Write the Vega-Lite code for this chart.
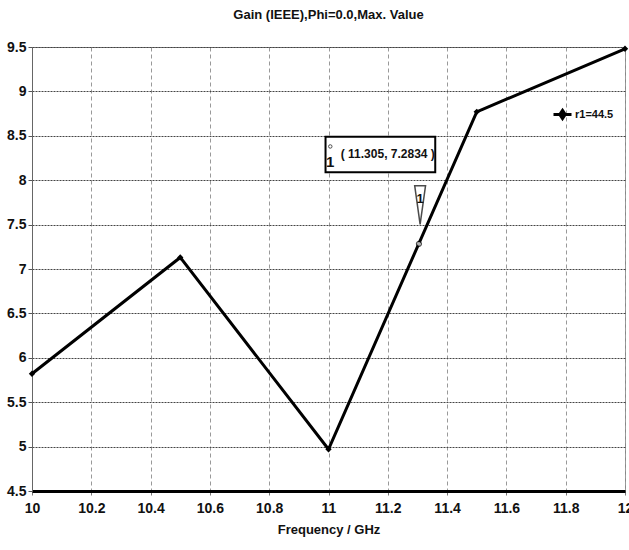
{
  "$schema": "https://vega.github.io/schema/vega-lite/v6.json",
  "width": 593,
  "height": 444,
  "autosize": "none",
  "padding": {"left": 32, "top": 47, "right": 4, "bottom": 59},
  "background": "white",
  "title": {"text": "Gain (IEEE),Phi=0.0,Max. Value", "anchor": "middle", "font": "Liberation Sans", "fontSize": 13, "fontWeight": "bold", "color": "#111", "offset": 18},
  "config": {
    "view": {"stroke": "#888", "strokeWidth": 1},
    "font": "Liberation Sans"
  },
  "datasets": {
    "gain": [
      {"freq": 10, "gain": 5.82, "series": "r1=44.5"},
      {"freq": 10.5, "gain": 7.13, "series": "r1=44.5"},
      {"freq": 11, "gain": 4.97, "series": "r1=44.5"},
      {"freq": 11.5, "gain": 8.77, "series": "r1=44.5"},
      {"freq": 12, "gain": 9.48, "series": "r1=44.5"}
    ],
    "marker": [{"freq": 11.305, "gain": 7.2834}],
    "box": [{"x1": 10.99, "x2": 11.36, "y1": 8.09, "y2": 8.49}],
    "labels": [
      {"freq": 11.2, "gain": 8.29, "label": "( 11.305, 7.2834 )", "size": 12},
      {"freq": 11.006, "gain": 8.21, "label": "1", "size": 15},
      {"freq": 11.309, "gain": 7.79, "label": "1", "size": 13}
    ],
    "smallcircle": [{"freq": 11.006, "gain": 8.38}],
    "flag": [{"freq": 11.309, "gain": 7.72}]
  },
  "layer": [
    {
      "data": {"name": "gain"},
      "mark": {"type": "line", "strokeWidth": 3, "color": "black", "point": {"shape": "diamond", "filled": true, "size": 40, "color": "black"}},
      "encoding": {
        "x": {"field": "freq", "type": "quantitative", "scale": {"domain": [10, 12], "nice": false, "zero": false},
          "axis": {"values": [10, 10.2, 10.4, 10.6, 10.8, 11, 11.2, 11.4, 11.6, 11.8, 12], "format": ".1~f", "title": "Frequency / GHz", "titleFont": "Liberation Sans", "titleFontSize": 13, "titleFontWeight": "bold", "titleColor": "#111", "titlePadding": 8,
            "labelFont": "Liberation Sans", "labelFontSize": 14, "labelFontWeight": "bold", "labelColor": "#111", "labelPadding": 6, "labelFlush": false,
            "domainColor": "black", "domainWidth": 3, "tickColor": "#777", "tickSize": 4,
            "grid": true, "gridColor": "#999", "gridDash": [4, 3], "gridWidth": 1}},
        "y": {"field": "gain", "type": "quantitative", "scale": {"domain": [4.5, 9.5], "nice": false, "zero": false},
          "axis": {"values": [4.5, 5, 5.5, 6, 6.5, 7, 7.5, 8, 8.5, 9, 9.5], "title": null, "format": ".1~f",
            "labelFont": "Liberation Sans", "labelFontSize": 14, "labelFontWeight": "bold", "labelColor": "#111", "labelPadding": 2,
            "domainColor": "#666", "domainWidth": 1, "tickColor": "#555", "tickSize": 4,
            "grid": true, "gridColor": "#444", "gridDash": [2, 1], "gridWidth": 1}},
        "color": {"field": "series", "type": "nominal", "scale": {"range": ["black"]},
          "legend": {"orient": "none", "legendX": 520, "legendY": 57, "title": null, "symbolType": "M-1,0L1,0M0,-0.45L0.3,0L0,0.45L-0.3,0Z", "symbolSize": 324, "symbolStrokeWidth": 3, "symbolFillColor": "black", "symbolStrokeColor": "black",
            "labelFont": "Liberation Sans", "labelFontSize": 11, "labelFontWeight": "bold", "labelColor": "#111", "labelOffset": 2}}
      }
    },
    {
      "mark": {"type": "rule", "color": "black", "strokeWidth": 3},
      "encoding": {"y": {"datum": 9.5}}
    },
    {
      "data": {"name": "box"},
      "mark": {"type": "rect", "fill": "white", "stroke": "black", "strokeWidth": 2},
      "encoding": {
        "x": {"field": "x1", "type": "quantitative"},
        "x2": {"field": "x2"},
        "y": {"field": "y1", "type": "quantitative"},
        "y2": {"field": "y2"}
      }
    },
    {
      "data": {"name": "flag"},
      "mark": {"type": "point", "shape": "M-0.28,-1L0.28,-1L0,1Z", "size": 1500, "filled": true, "fill": "white", "stroke": "black", "strokeWidth": 1.5},
      "encoding": {
        "x": {"field": "freq", "type": "quantitative"},
        "y": {"field": "gain", "type": "quantitative"}
      }
    },
    {
      "data": {"name": "marker"},
      "mark": {"type": "point", "shape": "circle", "size": 25, "filled": true, "fill": "white", "stroke": "black", "strokeWidth": 1.2},
      "encoding": {
        "x": {"field": "freq", "type": "quantitative"},
        "y": {"field": "gain", "type": "quantitative"}
      }
    },
    {
      "data": {"name": "smallcircle"},
      "mark": {"type": "point", "shape": "circle", "size": 12, "filled": false, "stroke": "black", "strokeWidth": 1},
      "encoding": {
        "x": {"field": "freq", "type": "quantitative"},
        "y": {"field": "gain", "type": "quantitative"}
      }
    },
    {
      "data": {"name": "labels"},
      "mark": {"type": "text", "font": "Liberation Sans", "fontWeight": "bold", "color": "#111", "align": "center", "baseline": "middle"},
      "encoding": {
        "x": {"field": "freq", "type": "quantitative"},
        "y": {"field": "gain", "type": "quantitative"},
        "text": {"field": "label"},
        "size": {"field": "size", "type": "quantitative", "scale": null}
      }
    }
  ]
}
